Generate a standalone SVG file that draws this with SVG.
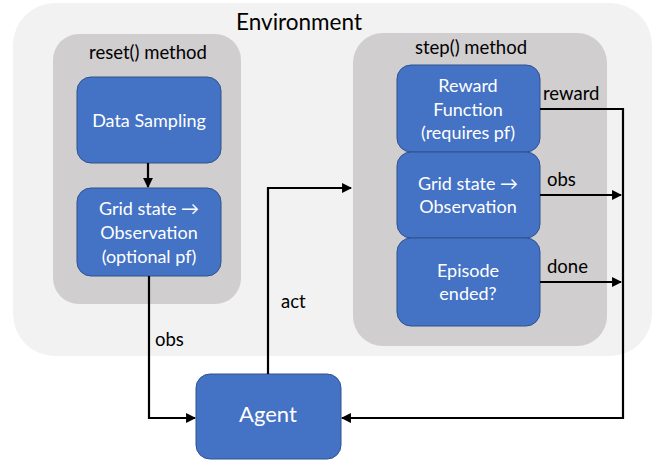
<svg xmlns="http://www.w3.org/2000/svg" width="662" height="461" viewBox="0 0 662 461">
  <defs>
    <marker id="arrow" viewBox="0 0 10 10" refX="9" refY="5" markerWidth="4.5" markerHeight="4.5" orient="auto" markerUnits="strokeWidth">
      <path d="M0,0 L10,5 L0,10 z" fill="#000"/>
    </marker>
    <style>
      text { font-family: Lato, "Open Sans", "Liberation Sans", sans-serif; text-anchor: middle; }
      .env { fill: #f2f2f2; }
      .method { fill: #d0cece; }
      .box { fill: #4472c4; stroke: #2f528f; stroke-width: 1; }
      .boxText { fill: #ffffff; font-size: 18px; }
      .title { fill: #000; font-size: 18.5px; }
      .label { fill: #000; font-size: 18.5px; text-anchor: start; }
      .wire { fill: none; stroke: #000; stroke-width: 2.2; }
    </style>
  </defs>

  <!-- Environment backdrop -->
  <g id="environment">
    <rect class="env" x="13" y="3" width="639" height="353" rx="42"/>
    <text x="299" y="30" style="font-size:22.5px">Environment</text>
  </g>

  <!-- reset() container -->
  <g id="reset-method">
    <rect class="method" x="53" y="34" width="188" height="270" rx="26"/>
    <text class="title" x="148" y="59">reset() method</text>
  </g>

  <!-- step() container -->
  <g id="step-method">
    <rect class="method" x="353" y="33" width="254" height="313" rx="30"/>
    <text class="title" x="471" y="54">step() method</text>
  </g>

  <g id="data-sampling">
    <rect class="box" x="77" y="77" width="144" height="86" rx="14"/>
    <text class="boxText" x="149" y="127">Data Sampling</text>
  </g>

  <g id="reset-observation">
    <rect class="box" x="77" y="188" width="144" height="88" rx="14"/>
    <text class="boxText" x="149" y="215">Grid state →</text>
    <text class="boxText" x="149" y="239">Observation</text>
    <text class="boxText" x="149" y="263">(optional pf)</text>
  </g>

  <g id="reward-function">
    <rect class="box" x="397" y="65" width="143" height="87" rx="14"/>
    <text class="boxText" x="468" y="92">Reward</text>
    <text class="boxText" x="468" y="116">Function</text>
    <text class="boxText" x="468" y="139">(requires pf)</text>
  </g>

  <g id="step-observation">
    <rect class="box" x="397" y="152" width="143" height="86" rx="14"/>
    <text class="boxText" x="468" y="190">Grid state →</text>
    <text class="boxText" x="468" y="213">Observation</text>
  </g>

  <g id="episode-ended">
    <rect class="box" x="397" y="238" width="143" height="88" rx="14"/>
    <text class="boxText" x="468" y="277">Episode</text>
    <text class="boxText" x="468" y="300">ended?</text>
  </g>

  <g id="agent">
    <rect class="box" x="196" y="374" width="145" height="85" rx="14"/>
    <text class="boxText" x="268" y="422" style="font-size:22px">Agent</text>
  </g>

  <!-- Connectors -->
  <g id="connectors">
    <path class="wire" d="M148,163 V187" marker-end="url(#arrow)"/>
    <path class="wire" d="M149,276 V418 H195" marker-end="url(#arrow)"/>
    <path class="wire" d="M268,374 V188 H351" marker-end="url(#arrow)"/>
    <path class="wire" d="M540,109 H623 V418 H342" marker-end="url(#arrow)"/>
    <path class="wire" d="M540,195 H621" marker-end="url(#arrow)"/>
    <path class="wire" d="M540,282 H621" marker-end="url(#arrow)"/>
    <text class="label" x="543" y="100">reward</text>
    <text class="label" x="547" y="186">obs</text>
    <text class="label" x="547" y="273">done</text>
    <text class="label" x="281" y="308">act</text>
    <text class="label" x="155" y="346">obs</text>
  </g>
</svg>
